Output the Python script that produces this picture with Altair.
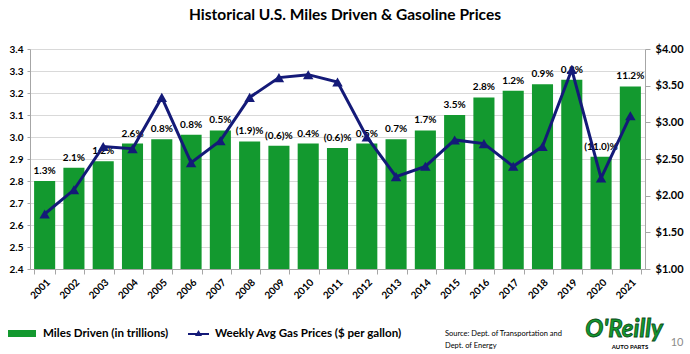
import altair as alt
import pandas as pd

years = [str(y) for y in range(2001, 2022)]
miles = [2.80, 2.86, 2.89, 2.97, 2.99, 3.01, 3.03, 2.98, 2.96, 2.97, 2.95,
         2.97, 2.99, 3.03, 3.10, 3.18, 3.21, 3.24, 3.26, 2.91, 3.23]
gas = [1.75, 2.08, 2.67, 2.64, 3.34, 2.45, 2.75, 3.34, 3.61, 3.65, 3.55,
       2.80, 2.26, 2.40, 2.76, 2.71, 2.40, 2.67, 3.72, 2.24, 3.09]
growth = ["1.3%", "2.1%", "1.2%", "2.6%", "0.8%", "0.8%", "0.5%", "(1.9)%",
          "(0.6)%", "0.4%", "(0.6)%", "0.5%", "0.7%", "1.7%", "3.5%", "2.8%",
          "1.2%", "0.9%", "0.8%", "(11.0)%", "11.2%"]
left_ticks = [2.4, 2.5, 2.6, 2.7, 2.8, 2.9, 3.0, 3.1, 3.2, 3.3, 3.4]
right_ticks = [1.0, 1.5, 2.0, 2.5, 3.0, 3.5, 4.0]
miles_base = 2.4

df = pd.DataFrame({"year": years, "miles": miles, "gas": gas, "growth": growth})

GREEN = "#13992f"
NAVY = "#141a78"
FONT = "Lato"

xscale = alt.Scale(paddingInner=0.28, paddingOuter=0.14)
xaxis = alt.Axis(labelAngle=315, labelFontWeight="bold", labelFontSize=10,
                 labelFont=FONT, labelColor="#000000", tickBand="extent",
                 domainColor="#a6a6a6", tickColor="#a6a6a6", tickSize=5,
                 labelOverlap=False, labelPadding=3, labelLimit=200, zindex=1)
xenc = alt.X("year:N", title=None, scale=xscale, axis=xaxis)

lscale = alt.Scale(domain=[2.4, 3.4], nice=False, zero=False)
rscale = alt.Scale(domain=[1.0, 4.0], nice=False, zero=False)

yl = alt.Y("miles:Q", title=None, scale=lscale,
           axis=alt.Axis(orient="left", values=left_ticks, tickCount=11,
                         format=".1f", labelFontWeight="bold", labelFontSize=10,
                         labelFont=FONT, labelColor="#000000", grid=True,
                         gridColor="#d9d9d9", domainColor="#a6a6a6",
                         tickColor="#a6a6a6", tickSize=3, labelPadding=4,
                         labelOverlap=False, labelFlush=False))
yr = alt.Y("gas:Q", title=None, scale=rscale,
           axis=alt.Axis(orient="right", values=right_ticks, tickCount=7,
                         format="$.2f", labelFontWeight="bold", labelFontSize=11,
                         labelFont=FONT, labelColor="#000000", grid=False,
                         domainColor="#a6a6a6", tickColor="#a6a6a6", tickSize=5,
                         labelPadding=5, labelOverlap=False, labelFlush=False))

base = alt.Chart(df)
bars = base.mark_bar(color=GREEN, clip=True).encode(
    x=xenc, y=yl, y2=alt.Y2Datum(miles_base))
labels = base.mark_text(fontWeight="bold", fontSize=10, font=FONT, dy=-5,
                        baseline="bottom", color="#000000").encode(
    x=xenc, y=alt.Y("miles:Q", scale=lscale, axis=None), text="growth:N")
line = base.mark_line(color=NAVY, strokeWidth=3).encode(x=xenc, y=yr)
pts = base.mark_point(shape="triangle-up", filled=True, color=NAVY, size=110,
                      opacity=1).encode(x=xenc, y=alt.Y("gas:Q", scale=rscale, axis=None))

one = pd.DataFrame({"t": ["Historical U.S. Miles Driven & Gasoline Prices"]})
title = alt.Chart(one).mark_text(font=FONT, fontSize=15.5, fontWeight="bold",
                                 color="#000000", align="center", baseline="middle").encode(
    text="t:N", x=alt.value(315), y=alt.value(-34))
leg_rect = alt.Chart(one).mark_rect(color=GREEN).encode(
    x=alt.value(-22), x2=alt.value(6), y=alt.value(281), y2=alt.value(288))
leg_t1 = alt.Chart(pd.DataFrame({"t": ["Miles Driven (in trillions)"]})).mark_text(
    font=FONT, fontSize=11.6, fontWeight="bold", align="left", baseline="middle",
    color="#000000").encode(text="t:N", x=alt.value(13), y=alt.value(285))
leg_line = alt.Chart(one).mark_rule(color=NAVY, strokeWidth=2).encode(
    x=alt.value(158), x2=alt.value(179), y=alt.value(285))
leg_tri = alt.Chart(one).mark_point(shape="triangle-up", filled=True, color=NAVY,
                                    size=50, opacity=1).encode(
    x=alt.value(168.5), y=alt.value(284))
leg_t2 = alt.Chart(pd.DataFrame({"t": ["Weekly Avg Gas Prices ($ per gallon)"]})).mark_text(
    font=FONT, fontSize=11.6, fontWeight="bold", align="left", baseline="middle",
    color="#000000").encode(text="t:N", x=alt.value(185), y=alt.value(285))
src1 = alt.Chart(pd.DataFrame({"t": ["Source:  Dept. of Transportation and"]})).mark_text(
    font=FONT, fontSize=7.5, align="left", baseline="middle", color="#000000").encode(
    text="t:N", x=alt.value(415), y=alt.value(285))
src2 = alt.Chart(pd.DataFrame({"t": ["Dept. of Energy"]})).mark_text(
    font=FONT, fontSize=7.5, align="left", baseline="middle", color="#000000").encode(
    text="t:N", x=alt.value(415), y=alt.value(297))
logo = alt.Chart(pd.DataFrame({"t": ["O'Reilly"]})).mark_text(
    font=FONT, fontSize=24, fontWeight="bold", fontStyle="italic", align="center",
    baseline="middle", color=GREEN, stroke="#0a4a18", strokeWidth=0.8).encode(
    text="t:N", x=alt.value(594), y=alt.value(281))
logo2 = alt.Chart(pd.DataFrame({"t": ["AUTO PARTS"]})).mark_text(
    font=FONT, fontSize=6, fontWeight="bold", align="center", baseline="middle",
    color="#000000").encode(text="t:N", x=alt.value(600), y=alt.value(298))
page = alt.Chart(pd.DataFrame({"t": ["10"]})).mark_text(
    font=FONT, fontSize=11, align="center", baseline="middle", color="#8c8c8c").encode(
    text="t:N", x=alt.value(647), y=alt.value(294))

chart = alt.layer(bars, labels, line, pts, title, leg_rect, leg_t1, leg_line, leg_tri,
                  leg_t2, src1, src2, logo, logo2, page).resolve_scale(
    y="independent").properties(
    width=615, height=220,
    autosize=alt.AutoSizeParams(type="none"),
    padding={"left": 30, "top": 49, "right": 45, "bottom": 85},
    background="white"
).configure_view(stroke=None)

chart.save("out.html", embed_options={"renderer": "svg", "actions": False})
